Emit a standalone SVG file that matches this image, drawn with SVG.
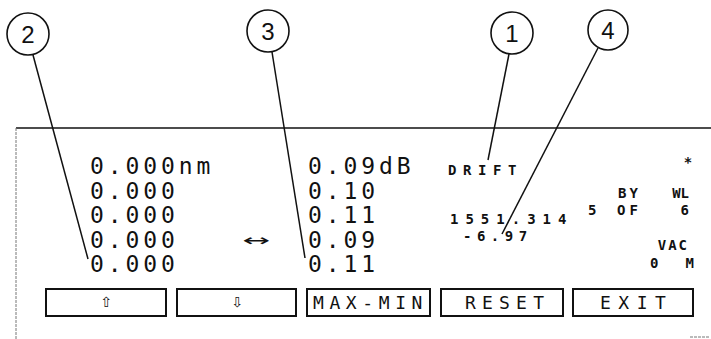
<svg xmlns="http://www.w3.org/2000/svg" width="711" height="339" viewBox="0 0 711 339">
<style>
.bg{fill:#fff}
.frame{stroke:#111;stroke-width:1.5;fill:none}
.dash{stroke:#777;stroke-width:1;stroke-dasharray:3 1;fill:none}
.callout circle{fill:#fff;stroke:#111;stroke-width:1.6}
.num{font-family:"Liberation Sans",Arial,sans-serif;font-size:24px;fill:#111;text-anchor:middle}
.big{font-family:"DejaVu Sans Mono",monospace;font-size:23px;fill:#111;letter-spacing:3.9px}
.small{font-family:"DejaVu Sans Mono",monospace;font-size:14px;font-weight:bold;fill:#111}
.btn rect{fill:#fff;stroke:#111;stroke-width:2}
.btxt{font-family:"DejaVu Sans Mono",monospace;font-size:18px;fill:#111}
.leader{stroke:#111;stroke-width:1.5;fill:none}
</style>
<rect class="bg" x="0" y="0" width="711" height="339"/>
<g id="frame">
<line class="frame" x1="16" y1="128" x2="711" y2="128"/>
<line class="dash" x1="16" y1="128" x2="16" y2="339"/>
<line class="dash" x1="690" y1="337" x2="710" y2="337"/>
</g>
<g id="col-wavelength">
<text class="big" x="90" y="174">0.000nm</text>
<text class="big" x="90" y="199">0.000</text>
<text class="big" x="90" y="223">0.000</text>
<text class="big" x="90" y="248">0.000</text>
<text class="big" x="90" y="272">0.000</text>
</g>
<g id="arrow-sym">
<text x="242" y="246" font-family="DejaVu Sans,sans-serif" font-size="16" textLength="28" lengthAdjust="spacingAndGlyphs" fill="#111">↔</text>
</g>
<g id="col-power">
<text class="big" x="308" y="174">0.09dB</text>
<text class="big" x="308" y="199">0.10</text>
<text class="big" x="308" y="223">0.11</text>
<text class="big" x="308" y="248">0.09</text>
<text class="big" x="308" y="272">0.11</text>
</g>
<g id="status">
<text class="small" x="448" y="175" letter-spacing="6.6">DRIFT</text>
<text class="small" x="450" y="224" letter-spacing="7">1551.314</text>
<text class="small" x="463" y="241" letter-spacing="5.5">-6.97</text>
<text class="small" x="688" y="167" text-anchor="middle" font-size="22" font-weight="normal">*</text>
<text class="small" x="618" y="198" letter-spacing="3">BY</text>
<text class="small" x="689" y="198" text-anchor="end">WL</text>
<text class="small" x="588" y="215">5</text>
<text class="small" x="617" y="215" letter-spacing="4">OF</text>
<text class="small" x="689" y="215" text-anchor="end">6</text>
<text class="small" x="689" y="250" text-anchor="end" letter-spacing="2">VAC</text>
<text class="small" x="650" y="268">0</text>
<text class="small" x="694" y="268" text-anchor="end">M</text>
</g>
<g id="btn-up" class="btn">
<rect x="46" y="289" width="120" height="27"/>
<text x="106" y="307" font-family="DejaVu Sans,sans-serif" font-size="14" text-anchor="middle" fill="#111">⇧</text>
</g>
<g id="btn-down" class="btn">
<rect x="177" y="289" width="119" height="27"/>
<text x="237" y="307" font-family="DejaVu Sans,sans-serif" font-size="14" text-anchor="middle" fill="#111">⇩</text>
</g>
<g id="btn-maxmin" class="btn">
<rect x="307" y="289" width="123" height="27"/>
<text class="btxt" x="313" y="309" letter-spacing="5.6">MAX-MIN</text>
</g>
<g id="btn-reset" class="btn">
<rect x="441" y="289" width="122" height="27"/>
<text class="btxt" x="465" y="309" letter-spacing="6.2">RESET</text>
</g>
<g id="btn-exit" class="btn">
<rect x="573" y="289" width="120" height="27"/>
<text class="btxt" x="600" y="309" letter-spacing="7.5">EXIT</text>
</g>
<g id="connectors">
<line class="leader" x1="33" y1="55" x2="88" y2="259"/>
<line class="leader" x1="272" y1="52" x2="305" y2="258"/>
<line class="leader" x1="509" y1="54" x2="488" y2="160"/>
<line class="leader" x1="598" y1="48" x2="502" y2="234"/>
</g>
<g id="callout-2" class="callout">
<circle cx="28" cy="34" r="21"/>
<text class="num" x="28" y="43">2</text>
</g>
<g id="callout-3" class="callout">
<circle cx="268" cy="31" r="21"/>
<text class="num" x="268" y="40">3</text>
</g>
<g id="callout-1" class="callout">
<circle cx="512" cy="33" r="21"/>
<text class="num" x="512" y="42">1</text>
</g>
<g id="callout-4" class="callout">
<circle cx="608" cy="30" r="20"/>
<text class="num" x="608" y="39">4</text>
</g>
</svg>
